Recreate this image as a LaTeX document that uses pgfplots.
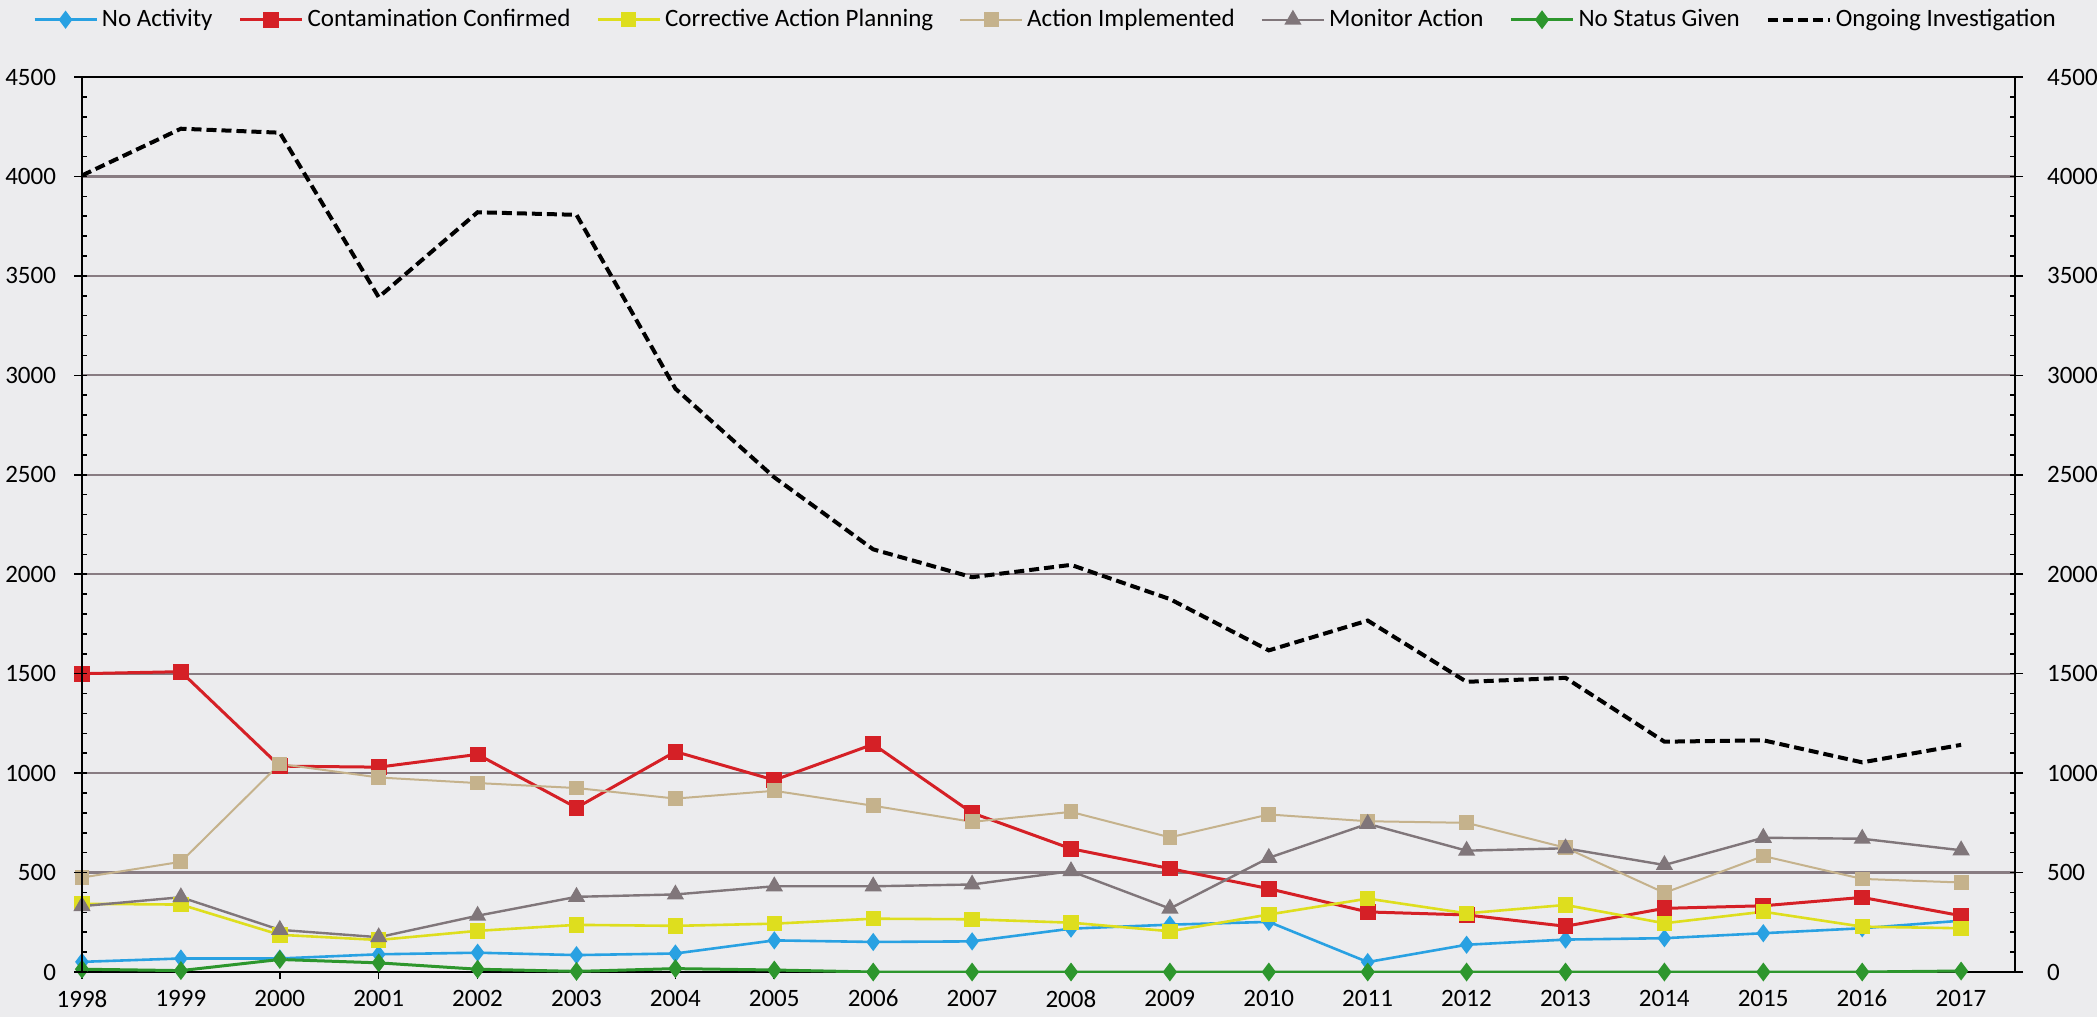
\documentclass[border=0pt]{standalone}
\usepackage{fontspec}
\setmainfont{Carlito}
\usepackage{pgfplots}
\usepackage{pgfplotstable}
\pgfplotsset{compat=1.18}

\definecolor{bgcol}{RGB}{236,236,238}
\definecolor{cNA}{RGB}{41,161,226}
\definecolor{cCC}{RGB}{213,32,38}
\definecolor{cCAP}{RGB}{222,222,30}
\definecolor{cAI}{RGB}{197,178,140}
\definecolor{cMA}{RGB}{128,118,122}
\definecolor{cNSG}{RGB}{45,150,45}
\definecolor{gridcol}{RGB}{136,124,130}

\pgfplotstableread{
year na   cc   cap  ai   ma  nsg  oi
1998 51   1500 343  475  331 14   4005
1999 68   1510 339  554  376 7    4240
2000 68   1035 187  1046 212 63   4220
2001 89   1030 161  978  175 46   3393
2002 97   1094 207  950  283 14   3820
2003 85   826  237  925  378 3    3807
2004 93   1108 232  872  390 17   2933
2005 159  965  243  911  431 10   2487
2006 151  1145 268  836  431 0    2125
2007 154  800  265  755  440 0    1985
2008 218  620  248  805  507 0    2047
2009 238  520  205  677  319 0    1875
2010 252  419  289  792  574 0    1617
2011 50   302  369  758  745 0    1767
2012 137  287  295  750  610 0    1459
2013 163  230  337  625  622 0    1479
2014 170  320  245  398  538 0    1158
2015 195  333  303  583  675 0    1165
2016 220  375  228  468  670 0    1054
2017 258  283  220  450  612 5    1142
}\data

\pgfplotsset{
  base/.style={
    at={(0pt,0pt)}, anchor=south west, scale only axis,
    width=966.5pt, height=447.5pt,
    xmin=1998, xmax=2017.545, ymin=0, ymax=4500,
    font={\fontsize{12.5}{14}\selectfont},
    /pgf/number format/1000 sep={},
    /pgf/number format/assume math mode=true,
  },
  yside/.style={
    base, axis x line=none,
    ytick={0,500,...,4500}, minor ytick={100,200,...,4400},
    tick align=outside, major tick length=6.5pt, minor tick length=2.5pt,
    axis line style={black, line width=1pt},
    tick style={black, line width=0.8pt},
  },
}

\begin{document}
\begin{tikzpicture}
\fill[bgcol] (-41pt,-22.5pt) rectangle (1007.5pt,486pt);
\useasboundingbox (-41pt,-22.5pt) rectangle (1007.5pt,486pt);

\begin{axis}[
  base,
  axis line style={black, line width=1pt},
  xtick={1998,...,2017}, xtick pos=bottom,
  ytick={500,1000,...,4000}, ytick pos=left, yticklabels={},
  tick align=outside, major tick length=3.5pt,
  tick style={black, line width=0.8pt},
  ymajorgrids, grid style={gridcol, line width=1.1pt},
  xticklabel style={yshift=-2pt},
  legend columns=7,
  legend style={draw=none, fill=none, at={(0.499,1.064)}, anchor=center,
    font={\fontsize{12.5}{14}\selectfont},
    /tikz/every even column/.append style={column sep=11pt}},
  legend image code/.code={
    \draw[mark repeat=2,mark phase=2,#1] plot coordinates {(0pt,0pt) (15.5pt,0pt) (31pt,0pt)};},
]
\addplot[cNA, line width=1.3pt, mark=diamond*, mark size=3.5pt] table[x=year,y=na] {\data};
\addlegendentry{No Activity}
\addplot[cCC, line width=1.5pt, mark=square*, mark size=3.2pt] table[x=year,y=cc] {\data};
\addlegendentry{Contamination Confirmed}
\addplot[cCAP, line width=1.3pt, mark=square*, mark size=3.2pt] table[x=year,y=cap] {\data};
\addlegendentry{Corrective Action Planning}
\addplot[cAI, line width=1pt, mark=square*, mark size=3.2pt] table[x=year,y=ai] {\data};
\addlegendentry{Action Implemented}
\addplot[cMA, line width=1.2pt, mark=triangle*, mark size=3.8pt] table[x=year,y=ma] {\data};
\addlegendentry{Monitor Action}
\addplot[cNSG, line width=1.5pt, mark=diamond*, mark size=3.5pt] table[x=year,y=nsg] {\data};
\addlegendentry{No Status Given}
\addplot[black, line width=2pt, dash pattern=on 5pt off 2.5pt] table[x=year,y=oi] {\data};
\addlegendentry{Ongoing Investigation}
\end{axis}

\begin{axis}[
  yside, axis y line*=left,
  major tick style={xshift=2.5pt}, minor tick style={xshift=2.5pt},
  yticklabel style={xshift=-3pt},
]
\end{axis}

\begin{axis}[
  yside, axis y line*=right,
  major tick style={xshift=-2.5pt}, minor tick style={xshift=-2.5pt},
  yticklabel style={xshift=6pt},
]
\end{axis}
\end{tikzpicture}
\end{document}
